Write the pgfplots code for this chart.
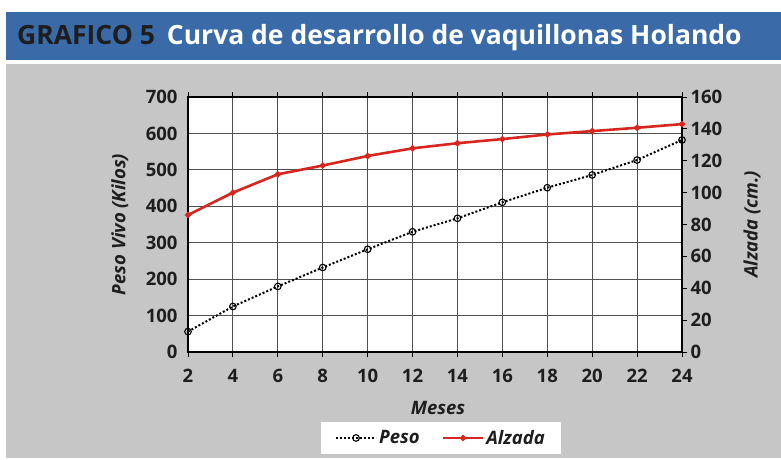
\documentclass[border=0pt]{standalone}
\usepackage{pgfplots}
\pgfplotsset{compat=1.18}
\usepackage{fontspec}
\setmainfont{Open Sans}
\definecolor{bandblue}{HTML}{3A6AA8}
\definecolor{bggray}{HTML}{C6C6C6}
\definecolor{redline}{HTML}{D7261E}
\definecolor{gridc}{HTML}{505050}
\definecolor{txt}{HTML}{1E1E1E}
\pgfplotstableread{
x peso
2 56
4 125
6 180
8 232
10 282
12 330
14 367
16 411
18 451
20 486
22 527
24 582
}\pesodata
\pgfplotstableread{
x alzada
2 86
4 100
6 111.5
8 117
10 123
12 127.8
14 131
16 133.6
18 136.5
20 138.6
22 140.7
24 143
}\alzadadata
\begin{document}
\begin{tikzpicture}[x=1pt,y=1pt]
\useasboundingbox (0,0) rectangle (781,459);
\fill[white] (0,0) rectangle (781,459);
\fill[bggray] (6,1) rectangle (781,395);
\fill[bandblue] (6,399) rectangle (781,447);
\node[anchor=base west, inner sep=0pt, font=\fontsize{26.5}{26.5}\selectfont\bfseries, text=txt] at (17,414) {GRAFICO 5\hspace{12pt}\textcolor{white}{Curva de desarrollo de vaquillonas Holando}};
\pgfplotsset{
  common/.style={
    scale only axis, width=494pt, height=255pt,
    at={(188pt,107pt)}, anchor=south west,
    xmin=2, xmax=24,
    xtick={2,4,...,24},
    tick align=outside,
    major tick length=5pt,
    tick style={black, line width=1pt},
    tick label style={font=\fontsize{18.5}{18.5}\selectfont\bfseries, text=txt},
    /pgf/number format/assume math mode=true,
    label style={font=\fontsize{18.5}{18.5}\selectfont\bfseries\itshape, text=txt},
  }
}
\begin{axis}[common,
  ymin=0, ymax=700, ytick={0,100,...,700},
  axis background/.style={fill=white},
  grid=major,
  major grid style={gridc, line width=1pt},
  axis line style={black, line width=1.2pt},
  ytick style={draw=none},
  yticklabel style={xshift=-2pt},
  xticklabel style={yshift=-9pt},
  xlabel={Meses},
  xlabel style={at={(axis description cs:0.506,-0.22)}, anchor=center},
  ylabel={Peso Vivo (Kilos)},
  ylabel style={at={(axis description cs:-0.138,0.5)}, anchor=center},
]
\addplot[black, line width=2pt, dotted, mark=o, mark size=3.3pt, mark options={solid, fill=white, line width=1.1pt}] table[x=x, y=peso] {\pesodata};
\end{axis}
\begin{axis}[common,
  ymin=0, ymax=160, ytick={0,20,...,160},
  axis y line*=right, axis x line=none,
  axis line style={black, line width=1.2pt},
  ylabel={Alzada (cm.)},
  ylabel style={at={(axis description cs:1.142,0.5)}, anchor=center},
  legend columns=2,
  legend image code/.code={\draw[mark repeat=2, mark phase=2] plot coordinates {(0pt,0pt) (20pt,0pt) (40pt,0pt)};},
  legend style={at={(0.512,-0.2745)}, anchor=north, draw=none, fill=white,
    font=\fontsize{18.5}{18.5}\selectfont\bfseries\itshape, text=txt,
    inner xsep=14pt, inner ysep=6pt,
    /tikz/every even column/.append style={column sep=20pt}},
]
\addlegendimage{black, line width=2pt, dotted, mark=o, mark size=3.3pt, mark options={solid, fill=white, line width=1.1pt}}
\addlegendentry{Peso}
\addplot[redline, line width=2.6pt, mark=*, mark size=1.6pt] table[x=x, y=alzada] {\alzadadata};
\addlegendentry{Alzada}
\end{axis}
\end{tikzpicture}
\end{document}
